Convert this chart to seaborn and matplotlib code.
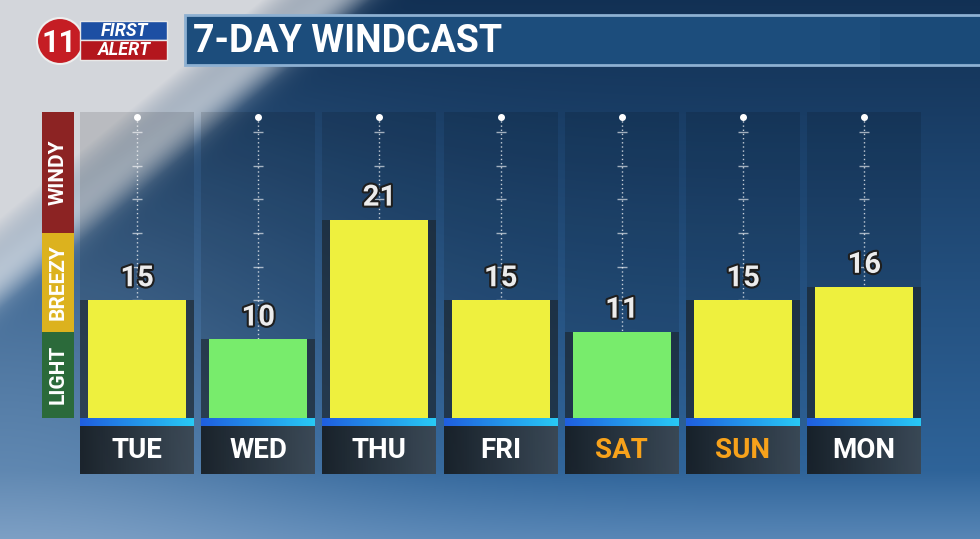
import numpy as np
import pandas as pd
import matplotlib
matplotlib.use("Agg")
import matplotlib.pyplot as plt
import matplotlib.patheffects as pe
from matplotlib.colors import LinearSegmentedColormap
from matplotlib.patches import Rectangle, Circle
import seaborn as sns

days = ["TUE", "WED", "THU", "FRI", "SAT", "SUN", "MON"]
wind_mph = [15, 10, 21, 15, 11, 15, 16]
weekend_days = ["SAT", "SUN"]
scale_labels = ["LIGHT", "BREEZY", "WINDY"]
scale_edges = [0, 11, 20, 29]
guide_ticks = [15, 17.5, 20, 22.5, 25, 27.5]
title = "7-DAY WINDCAST"

sns.set_style("white")
plt.rcParams["font.family"] = ["Roboto", "DejaVu Sans"]

W, H = 980, 539
DPI = 100


def px_rect(x0, y0, x1, y1):
    # pixel box (origin top-left) -> figure fraction
    return [x0 / W, 1 - y1 / H, (x1 - x0) / W, (y1 - y0) / H]


# the station's scale stretches above 15 mph
def fwd(v):
    v = np.asarray(v, dtype=float)
    return np.where(v <= 15, v, 15 + (v - 15) * 1.71)


def inv(u):
    u = np.asarray(u, dtype=float)
    return np.where(u <= 15, u, 15 + (u - 15) / 1.71)


def sky(h, w):
    yy, xx = np.mgrid[0:h, 0:w].astype(float)
    t = (yy / h)[..., None]
    img = np.array([0.07, 0.19, 0.33]) * (1 - t) + np.array([0.2, 0.42, 0.64]) * t
    haze = (np.exp(-(xx / 330) ** 2) * (yy / h))[..., None] * 0.6
    img = img * (1 - haze) + np.array([0.55, 0.66, 0.78]) * haze
    s = xx + 1.2 * yy
    white = np.clip((370 - s) / 110, 0, 1)[..., None]
    img = img * (1 - white) + np.array([0.83, 0.84, 0.86]) * white
    streak = (0.45 * np.exp(-((s - 330) / 35) ** 2))[..., None]
    img = img * (1 - streak) + streak
    cloud = (np.clip((yy - 470) / 80, 0, 1) * 0.35)[..., None]
    img = img * (1 - cloud) + np.array([0.68, 0.77, 0.88]) * cloud
    return np.clip(img, 0, 1)


fig = plt.figure(figsize=(W / DPI, H / DPI), dpi=DPI)

# background + header drawn in pixel space
bg = fig.add_axes([0, 0, 1, 1])
bg.imshow(sky(H, W), extent=(0, W, H, 0), aspect="auto")
bg.add_patch(Rectangle((185, 15), 800, 50, facecolor="#1c4d7c", edgecolor="#8db0d2", lw=2))
bg.add_patch(Rectangle((880, 17), 100, 46, facecolor="#1a4a78", lw=0))
bg.text(193, 42, title, color="white", fontsize=27, fontweight="bold", va="center", ha="left")
bg.add_patch(Circle((60, 41), 23, facecolor="#c51d24", edgecolor="#eeeeee", lw=1.5))
bg.text(59, 43, "11", color="white", fontsize=22, fontweight="bold", ha="center", va="center")
bg.add_patch(Rectangle((80, 21), 87, 19, facecolor="#1d4fa3", edgecolor="#e8e8e8", lw=1))
bg.add_patch(Rectangle((80, 40), 87, 20, facecolor="#b3161d", edgecolor="#e8e8e8", lw=1))
bg.text(124, 31, "FIRST", color="white", fontsize=13, fontweight="bold", style="italic", ha="center", va="center")
bg.text(124, 50, "ALERT", color="white", fontsize=13, fontweight="bold", style="italic", ha="center", va="center")
bg.set_xlim(0, W)
bg.set_ylim(H, 0)
bg.axis("off")

period = 121.2
x_left = 137 - period / 2
x_right = x_left + 7 * period

# main bar panel
ax = fig.add_axes(px_rect(x_left, 112, x_right, 418))
df = pd.DataFrame({"day": days, "mph": wind_mph})
df["level"] = np.where(df["mph"] < 12, "LIGHT", "BREEZY")
palette = {"LIGHT": "#78ec6c", "BREEZY": "#eef03e"}

xs = np.arange(len(days))
ax.bar(xs, [scale_edges[-1]] * len(days), width=0.94, color="black", alpha=0.12, lw=0, zorder=0)
ax.bar(xs, wind_mph, width=0.94, color="#1b2329", alpha=0.6, lw=0, zorder=1)
ax.vlines(xs, 0, 28.6, colors="white", linestyles=(0, (1, 2)), lw=1, alpha=0.75, zorder=1)
for tv in guide_ticks:
    ax.scatter(xs, [tv] * len(days), marker="_", s=45, color="white", alpha=0.6, lw=1, zorder=1)
ax.scatter(xs, [28.6] * len(days), s=16, color="white", zorder=2)

sns.barplot(data=df, x="day", y="mph", hue="level", palette=palette, dodge=False,
            width=0.81, saturation=1, legend=False, ax=ax, zorder=3, linewidth=0)
ax.set_yscale("function", functions=(fwd, inv))
ax.set_xlim(-0.5, len(days) - 0.5)
ax.set_ylim(scale_edges[0], scale_edges[-1])
for i, v in enumerate(wind_mph):
    ax.annotate(str(v), (i, v), xytext=(0, 10), textcoords="offset points",
                ha="center", va="baseline", fontsize=21, fontweight="bold", color="#ececec",
                path_effects=[pe.withStroke(linewidth=3, foreground="#1e1e1e")], zorder=4)
ax.axis("off")

# left wind scale
ax_scale = fig.add_axes(px_rect(42, 112, 74, 418), sharey=ax)
scale_colors = {"LIGHT": "#2b6a3a", "BREEZY": "#dcb21e", "WINDY": "#8c2323"}
for name, lo, hi in zip(scale_labels, scale_edges[:-1], scale_edges[1:]):
    ax_scale.bar(0, hi - lo, bottom=lo, width=1, color=scale_colors[name], lw=0)
    mid = float(inv((fwd(lo) + fwd(hi)) / 2))
    ax_scale.text(0, mid, name, rotation=90, ha="center", va="center", color="white",
                  fontsize=15, fontweight="bold")
ax_scale.set_xlim(-0.5, 0.5)
ax_scale.axis("off")

# day label strip
ax_days = fig.add_axes(px_rect(x_left, 418, x_right, 474))
strip_cmap = LinearSegmentedColormap.from_list("strip", ["#1f5fe0", "#28c9f5"])
box_cmap = LinearSegmentedColormap.from_list("box", ["#161c21", "#3b4650"])
grad = np.linspace(0, 1, 64)[None, :]
for i, d in enumerate(days):
    ax_days.imshow(grad, cmap=strip_cmap, extent=(i - 0.47, i + 0.47, 426, 418), aspect="auto")
    ax_days.imshow(grad, cmap=box_cmap, extent=(i - 0.47, i + 0.47, 474, 426), aspect="auto", alpha=0.92)
    ax_days.text(i, 451, d, ha="center", va="center", fontsize=20, fontweight="bold",
                 color="#f7a21b" if d in weekend_days else "white")
ax_days.set_xlim(-0.5, len(days) - 0.5)
ax_days.set_ylim(474, 418)
ax_days.axis("off")

fig.savefig("out.png", dpi=DPI)
